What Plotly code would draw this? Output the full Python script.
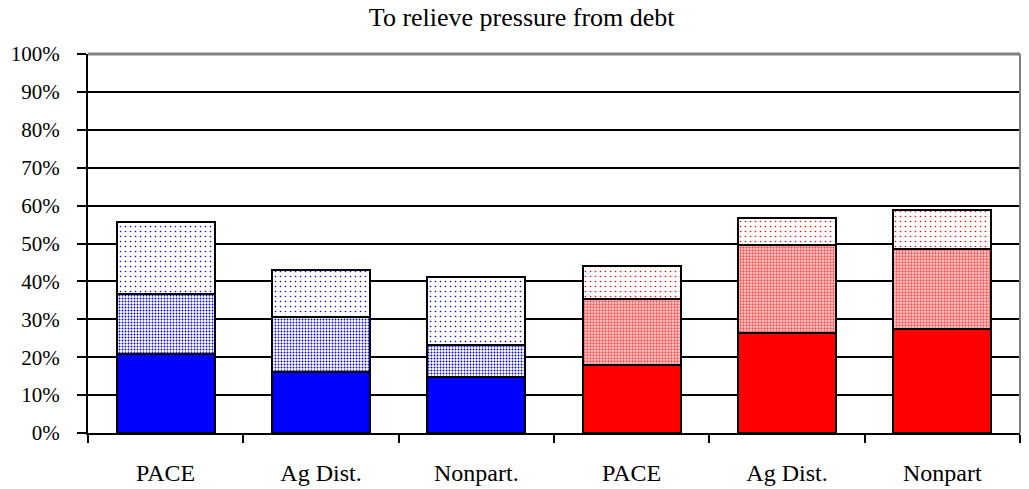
import plotly.graph_objects as go

# ---- data (percent) ----
labels = ["PACE", "Ag Dist.", "Nonpart.", "PACE", "Ag Dist.", "Nonpart"]
bottom_vals = [20.8, 16.1, 14.7, 17.9, 26.3, 27.4]
middle_vals = [15.9, 14.4, 8.4, 17.4, 23.2, 21.1]
top_vals = [19.1, 12.5, 18.0, 8.8, 7.2, 10.3]
y_ticks = list(range(0, 101, 10))

title_text = "To relieve pressure from debt"
font_family = "Liberation Serif, Times New Roman, serif"

xpos = list(range(len(labels)))
groups = [(xpos[:3], slice(0, 3), "#0000ff"), (xpos[3:], slice(3, 6), "#ff0000")]

fig = go.Figure()
for xs, sl, col in groups:
    blue = col == "#0000ff"
    # solid bottom
    fig.add_trace(go.Bar(
        x=xs, y=bottom_vals[sl], width=0.63,
        marker=dict(color=col, line=dict(color="black", width=2)),
        showlegend=False, hoverinfo="y"))
    # dense dotted middle
    fig.add_trace(go.Bar(
        x=xs, y=middle_vals[sl], width=0.63,
        marker=dict(color="white", line=dict(color="black", width=2),
                    pattern=dict(shape=".", fgcolor=col if blue else "#ff4a4a",
                                 bgcolor="white" if blue else "#ffd6d6",
                                 size=3,
                                 solidity=0.3 if blue else 0.45,
                                 fillmode="replace")),
        showlegend=False, hoverinfo="y"))
    # sparse dotted top
    fig.add_trace(go.Bar(
        x=xs, y=top_vals[sl], width=0.63,
        marker=dict(color="white", line=dict(color="black", width=2),
                    pattern=dict(shape=".", fgcolor=col, bgcolor="white",
                                 size=5, solidity=0.08, fillmode="replace")),
        showlegend=False, hoverinfo="y"))

fig.update_layout(
    barmode="stack",
    width=1029, height=489,
    margin=dict(l=88, r=9, t=54, b=56),
    paper_bgcolor="white", plot_bgcolor="white",
    font=dict(family=font_family, size=21, color="black"),
    title=dict(text=title_text, x=0.507, xanchor="center", y=0.965, yanchor="middle",
               font=dict(family=font_family, size=26, color="black")),
    xaxis=dict(
        range=[-0.5, 5.5], tickmode="array", tickvals=xpos, ticktext=labels,
        ticks="", showgrid=False, zeroline=False, automargin=False,
        showline=True, linecolor="black", linewidth=2,
        tickfont=dict(family=font_family, size=24, color="black"),
        ticklabelstandoff=17,
        minor=dict(tickmode="array", tickvals=[i - 0.5 for i in range(len(labels) + 1)],
                   ticks="outside", ticklen=8, tickwidth=2, tickcolor="black",
                   showgrid=False),
    ),
    yaxis=dict(
        range=[0, 100], tickmode="array", tickvals=y_ticks,
        ticktext=[f"{v}%" for v in y_ticks], automargin=False,
        ticks="outside", ticklen=9, tickwidth=2, tickcolor="black",
        showgrid=True, gridcolor="black", gridwidth=2,
        zeroline=False, showline=True, linecolor="black", linewidth=2,
        tickfont=dict(family=font_family, size=21, color="black"),
        ticklabelstandoff=13,
    ),
    shapes=[
        dict(type="line", xref="paper", yref="paper", x0=0, x1=1, y0=1, y1=1,
             line=dict(color="#808080", width=3), layer="above"),
        dict(type="line", xref="paper", yref="paper", x0=1, x1=1, y0=0, y1=1,
             line=dict(color="#808080", width=2), layer="above"),
    ],
)

fig.write_html("out.html", config={"displayModeBar": False},
               post_script="document.body.style.margin='0';document.body.style.padding='0';")
